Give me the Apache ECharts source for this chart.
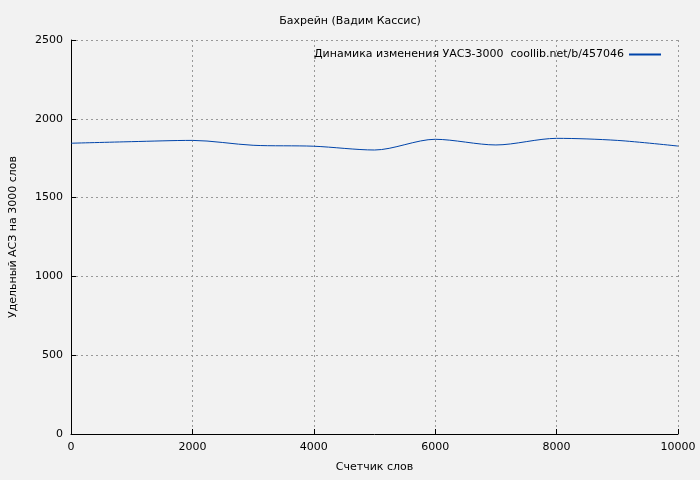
<!DOCTYPE html><html><head><meta charset="utf-8"><script src="https://cdn.jsdelivr.net/npm/echarts@6/dist/echarts.min.js"></script></head><body style="margin:0;background:#f2f2f2"><div id="c" style="width:700px;height:480px"></div><script>
const xs=[0,1000,2000,3000,4000,5000,6000,7000,8000,9000,10000];
const ys=[1845,1855,1863,1832,1826,1802,1870,1834,1876,1863,1827];
const f='DejaVu Sans';
const ch=echarts.init(document.getElementById('c'));
const grid={lineStyle:{type:[2,3],color:'#999'}};
ch.setOption({backgroundColor:'#f2f2f2',animation:false,
title:{text:'Бахрейн (Вадим Кассис)',left:'center',top:11,textStyle:{fontFamily:f,fontSize:11,fontWeight:'normal',color:'#000'}},
legend:{right:34,top:44,itemWidth:32,itemHeight:2,icon:'rect',itemGap:10,align:'right',textStyle:{fontFamily:f,fontSize:11,color:'#000'},data:['Динамика изменения УАСЗ-3000  coollib.net/b/457046']},
grid:{left:68,right:22,top:40,bottom:46,containLabel:false},
xAxis:{type:'value',min:0,max:10000,interval:2000,name:'Счетчик слов',nameLocation:'middle',nameGap:28,nameTextStyle:{fontFamily:f,fontSize:11,color:'#000'},axisLine:{lineStyle:{color:'#000'}},axisTick:{inside:true,lineStyle:{color:'#000'}},axisLabel:{fontFamily:f,fontSize:11,color:'#000',formatter:v=>String(v)},splitLine:grid},
yAxis:{type:'value',min:0,max:2500,interval:500,name:'Удельный АСЗ на 3000 слов',nameLocation:'middle',nameGap:52,nameTextStyle:{fontFamily:f,fontSize:11,color:'#000'},axisLine:{show:true,lineStyle:{color:'#000'}},axisTick:{show:true,inside:true,lineStyle:{color:'#000'}},axisLabel:{fontFamily:f,fontSize:11,color:'#000',formatter:v=>String(v)},splitLine:grid},
series:[{name:'Динамика изменения УАСЗ-3000  coollib.net/b/457046',type:'line',smooth:0.3,symbol:'none',data:xs.map((x,i)=>[x,ys[i]]),lineStyle:{color:'#0044aa',width:1},itemStyle:{color:'#0044aa'}}]});
</script></body></html>
